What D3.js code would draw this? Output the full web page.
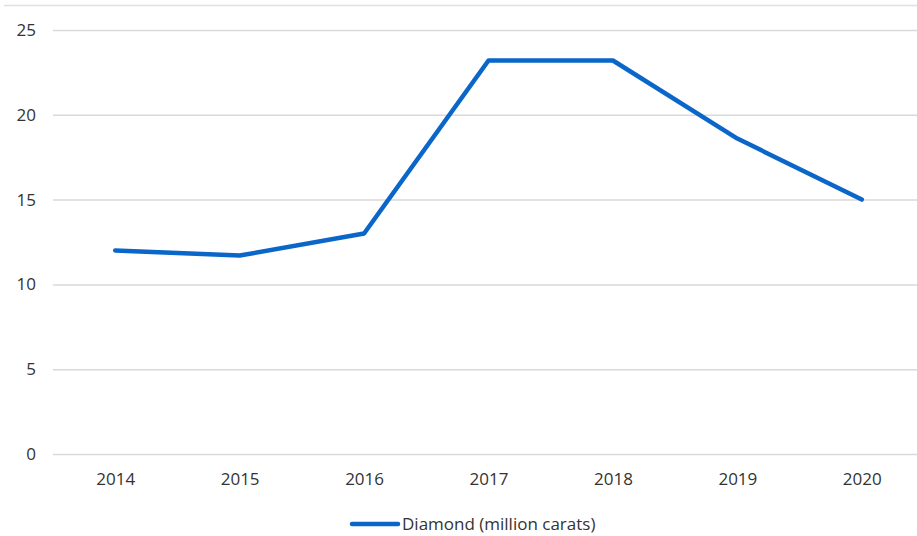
<!DOCTYPE html>
<html lang="en">
<head>
    <meta charset="UTF-8">
    <title>Diamond production</title>
    <style>
        body, html {
            margin: 0;
            padding: 0;
            background: #fff;
            overflow: hidden;
        }
        #chart { width: 917px; height: 536px; }
        text { font-family: "Open Sans", sans-serif; fill: #333; }
    </style>
    <script src="https://d3js.org/d3.v7.min.js"></script>
</head>
<body>
    <div id="chart"></div>
    <script>
        const years = ["2014", "2015", "2016", "2017", "2018", "2019", "2020"];
        const diamond = [12.0, 11.7, 13.0, 23.2, 23.2, 18.6, 15.0];
        const yTicks = [0, 5, 10, 15, 20, 25];
        const seriesName = "Diamond (million carats)";

        const W = 917, H = 536;
        const plot = { left: 53, right: 924, top: 30, bottom: 454 };

        const svg = d3.select("#chart").append("svg")
            .attr("width", W)
            .attr("height", H);

        // faint border line along the top
        svg.append("line")
            .attr("x1", 4).attr("x2", W)
            .attr("y1", 5.5).attr("y2", 5.5)
            .attr("stroke", "#e0e0e0")
            .attr("stroke-width", 1.5);

        const x = d3.scalePoint()
            .domain(years)
            .range([plot.left, plot.right])
            .padding(0.5);

        const y = d3.scaleLinear()
            .domain([0, 25])
            .range([plot.bottom, plot.top]);

        // gridlines + y labels
        const yAxis = svg.append("g")
            .attr("transform", `translate(${plot.left},0)`)
            .call(d3.axisLeft(y).tickValues(yTicks)
                .tickSize(-(W - plot.left)).tickPadding(17));
        yAxis.select(".domain").remove();
        yAxis.selectAll(".tick line")
            .attr("stroke", "#d9d9d9")
            .attr("stroke-width", 1.5);
        yAxis.selectAll(".tick text")
            .style("font-size", "17px")
            .attr("fill", "#333");

        // x labels
        const xAxis = svg.append("g")
            .attr("transform", `translate(0,${plot.bottom})`)
            .call(d3.axisBottom(x).tickSize(0).tickPadding(19));
        xAxis.select(".domain").remove();
        xAxis.selectAll(".tick text")
            .style("font-size", "17px")
            .attr("fill", "#333");

        const line = d3.line()
            .x((d, i) => x(years[i]))
            .y(d => y(d));

        svg.append("path")
            .datum(diamond)
            .attr("fill", "none")
            .attr("stroke", "#0a66c8")
            .attr("stroke-width", 4.5)
            .attr("stroke-linejoin", "round")
            .attr("stroke-linecap", "round")
            .attr("d", line);

        // legend
        const legend = svg.append("g").attr("transform", "translate(352,524)");
        legend.append("line")
            .attr("x1", 0).attr("x2", 46)
            .attr("y1", 0).attr("y2", 0)
            .attr("stroke", "#0a66c8")
            .attr("stroke-width", 4.5)
            .attr("stroke-linecap", "round");
        legend.append("text")
            .attr("x", 50)
            .attr("y", 6)
            .style("font-size", "17px")
            .text(seriesName);
    </script>
</body>
</html>
